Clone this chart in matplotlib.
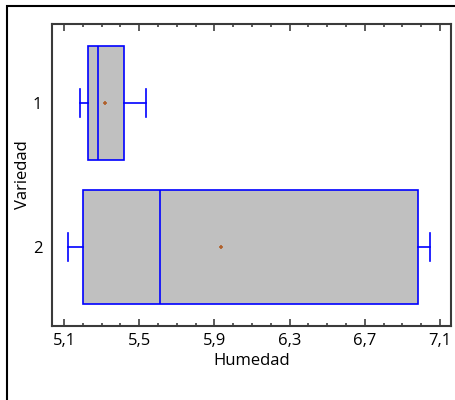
import matplotlib.pyplot as plt
from matplotlib.patches import Rectangle
from matplotlib.ticker import MultipleLocator, FuncFormatter

# box statistics (Humedad by Variedad)
varieties = ["1", "2"]
whislo = [5.185, 5.123]
q1 = [5.228, 5.203]
median = [5.280, 5.612]
q3 = [5.418, 6.986]
whishi = [5.536, 7.048]
means = [5.319, 5.936]
x_ticks = [5.1, 5.5, 5.9, 6.3, 6.7, 7.1]

plt.rcParams['font.family'] = ['Open Sans', 'DejaVu Sans']

fig = plt.figure(figsize=(4.56, 4.0), dpi=100)
ax = fig.add_axes([52 / 456, 1 - 326 / 400, 399 / 456, 302 / 400])

stats = []
for i in range(len(varieties)):
    stats.append({'label': varieties[i], 'whislo': whislo[i], 'q1': q1[i], 'med': median[i],
                  'q3': q3[i], 'whishi': whishi[i], 'mean': means[i], 'fliers': []})

blue = '#0000ff'
ax.bxp(stats, positions=[1, 2], widths=0.79, capwidths=0.19, orientation='horizontal',
       patch_artist=True, showmeans=True, showfliers=False,
       boxprops=dict(facecolor='#c0c0c0', edgecolor=blue, linewidth=1.2),
       medianprops=dict(color=blue, linewidth=1.2),
       whiskerprops=dict(color=blue, linewidth=1.2),
       capprops=dict(color=blue, linewidth=1.2),
       meanprops=dict(marker='+', markeredgecolor='#b0602c', markersize=3.5, markeredgewidth=1.2))

ax.set_xlim(5.036, 7.159)
ax.set_ylim(2.549, 0.451)
ax.set_xticks(x_ticks)
ax.xaxis.set_minor_locator(MultipleLocator(0.1))
ax.xaxis.set_major_formatter(FuncFormatter(lambda v, p: ('%.1f' % v).replace('.', ',')))
ax.tick_params(axis='x', which='major', direction='in', length=5, width=1.2, color='#404040',
               top=True, labelsize=12, pad=5)
ax.tick_params(axis='x', which='minor', direction='in', length=2.5, width=1.2, color='#404040', top=True)
ax.tick_params(axis='y', length=0, labelsize=12, pad=7)

for s in ax.spines.values():
    s.set_color('#3a3a3a')
    s.set_linewidth(1.5)

ax.set_xlabel('Humedad', fontsize=12, labelpad=3)
ax.set_ylabel('Variedad', fontsize=12, labelpad=1)

# outer frame
fig.patches.append(Rectangle((7 / 456, -0.05), 1.1, 1 - 6 / 400 + 0.05, transform=fig.transFigure,
                             fill=False, edgecolor='black', linewidth=1.5))

fig.savefig('out.png', dpi=100)
plt.close()
